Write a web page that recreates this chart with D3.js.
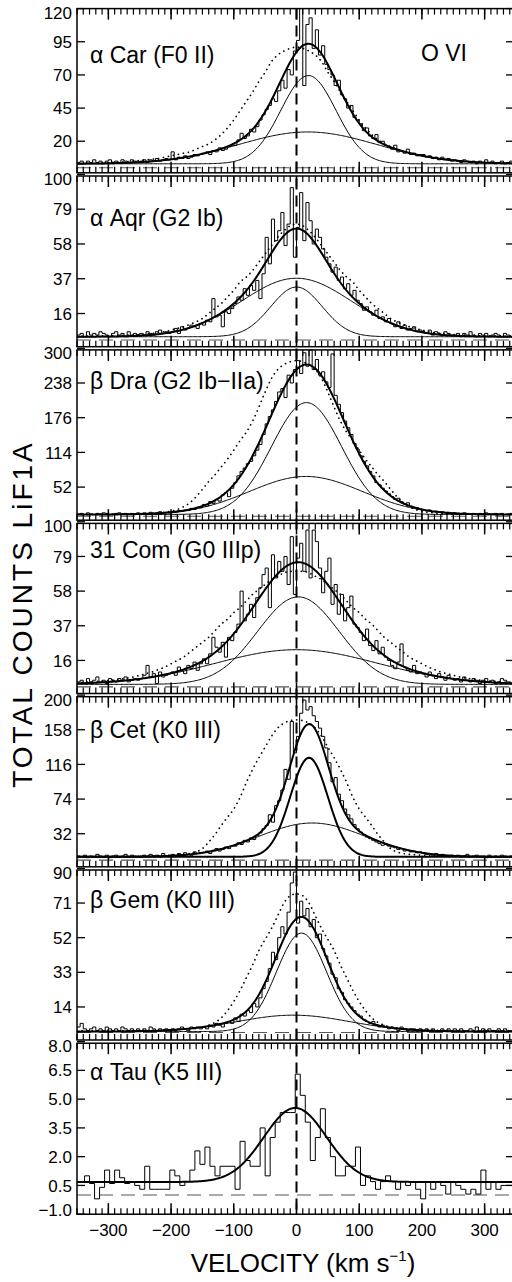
<!DOCTYPE html>
<html>
<head>
<meta charset="utf-8">
<script src="https://cdn.jsdelivr.net/npm/d3@7"></script>
<style>
body { margin: 0; background: #fff; }
text { font-family: "Liberation Sans", Arial, Helvetica, sans-serif; fill: #000; }
</style>
</head>
<body>
<script>
// LiF1A counts, 5 km/s bins starting at -350 km/s
var binStart = -350, binWidth = 5;
var carCounts = [4,5,3,5,4,6,4,5,3,5,6,4,5,4,6,5,4,6,5,4,
  5,6,4,6,5,7,5,6,7,6, 12,6,8,7,9,7,8,10,9,10, 11,12,10,13,12,15,13,14,16,17,
  17,21,26,22,24,29,27,31,36,40, 44,47,52,50,58,66,60,74,70,88,
  96,124,62,108,113,90,104,85,92,78, 74,70,62,66,55,52,45,47,38,36,
  33,28,30,24,22,25,19,20,17,16, 14,17,12,13,11,14,10,11,9,10, 10,8,9,7,8,6,8,6,7,5,
  6,5,4,6,5,4,5,3,5,4,6,4,5,3,4,5,3,4,5,4];
var aqrCounts = [3,4,2,5,3,4,3,5,4,3,2,4,5,3,4,2,5,3,4,3,
  4,3,5,4,3,5,6,4,5,4, 5,7,4,8,6,7,9,8,7,10, 9,12,11,25,14,15,8,17,16,19,
  22,26,24,31,27,33,30,36,25,40, 62,46,73,60,66,77,57,70,92,50,
  68,89,60,83,72,58,67,62,55,50, 46,41,44,36,38,31,34,27,30,24,
  22,18,20,17,15,18,13,14,11,13, 10,8,11,7,9,6,7,8,5,6, 5,4,6,3,5,4,3,5,4,3,
  3,4,2,4,3,5,3,2,4,3,4,2,3,4,3,2,4,3,2,3];
var draCounts = [4,5,3,6,4,3,5,4,6,5,3,4,5,6,4,5,3,5,4,6,
  5,6,4,7,5,6,8,5,7,6, 8,7,10,9,11,10,14,12,16,15, 21,18,26,23,30,27,38,42,35,50,
  60,72,80,86,94,98,108,118,128,146, 165,178,190,205,222,228,212,252,238,262,
  278,255,292,268,297,262,280,252,258,240, 230,290,216,200,185,170,158,146,130,120,
  108,98,90,80,72,60,56,50,45,40, 35,30,32,26,22,24,18,16,15,13, 12,10,11,8,9,7,8,6,7,5,
  6,5,4,6,5,4,5,3,5,4,6,4,3,5,4,5,3,4,5,4];
var comCounts = [3,4,2,5,3,4,6,3,4,2,5,4,3,5,4,6,3,4,5,4,
  5,7,13,6,8,2,9,6,7,8, 9,7,12,10,8,13,11,15,10,14, 17,14,20,30,24,21,27,18,30,28,
  33,38,58,40,44,50,42,54,60,68, 72,48,80,66,76,70,79,62,91,56,
  78,87,70,95,66,95,88,72,57,70, 78,50,62,44,56,40,48,55,38,36,
  33,28,35,25,22,28,20,24,18,16, 13,11,15,26,12,10,9,13,8,9, 8,6,9,7,5,8,6,4,7,5,
  4,5,3,6,4,3,5,4,2,4,5,3,4,2,3,5,4,3,2,4];
var cetCounts = [5,4,6,3,5,4,7,5,4,6,3,5,6,4,5,7,4,6,5,4,
  5,6,4,7,5,6,4,8,5,6, 7,5,8,6,9,7,6,10,8,9, 9,11,8,12,14,11,13,16,14,17,
  17,21,19,24,22,27,25,30,33,38, 42,55,46,66,72,85,110,98,168,130,
  150,178,194,182,186,175,168,160,150,136, 118,95,100,80,72,62,55,50,43,38,
  34,31,28,26,24,22,20,18,19,17, 16,15,13,14,11,12,10,11,9,10, 9,7,8,6,8,5,7,6,5,6,
  5,6,4,5,7,4,5,6,4,5,3,6,4,5,4,6,5,4,5,4];
var gemCounts = [3,5,2,1,2,3,1,2,1,3,2,1,2,1,3,2,1,2,1,2,
  1,2,1,3,2,1,2,1,2,1, 2,1,2,3,2,1,3,2,3,2, 3,2,4,3,5,4,3,5,6,5,
  8,6,10,9,12,11,16,14,19,24, 28,35,44,40,52,58,54,66,82,88,
  60,72,64,68,58,62,52,54,46,42, 38,32,30,24,22,18,16,14,12,10,
  9,7,6,5,6,4,3,4,3,2, 3,2,1,3,2,1,2,2,1,2, 1,2,1,2,1,1,2,1,2,1,
  2,1,2,1,1,2,1,3,1,2,1,2,1,1,2,1,2,1,1,2];

// alpha Tau, coarser 8 km/s bins
var tauStart = -354, tauWidth = 8;
var tauCounts = [0.7,0.7,1.0,0.6,-0.2,0.4,1.3,0.6,1.3,0.9,
  0.6,0.7,0.5,0.3,1.5,0.3,0.3,0.3,0.3,1.3, 1.0,0.5,0.7,1.3,2.3,1.6,2.5,1.5,1.0,1.5,
  1.5,1.5,0.3,2.8,1.8,1.5,1.5,3.5,1.0,3.0, 3.8,4.3,4.3,4.3,6.3,5.2,3.8,1.8,3.0,4.5,
  3.0,2.0,1.0,1.0,1.5,1.5,2.5,0.5,1.0,0.7, 0.3,0.7,1.0,0.7,0.3,0.7,0.5,0.7,0.3,-0.2,
  0.7,0.3,0.7,0.5,0.05,0.7,0.5,0.3,0.05,0.3, 0.05,1.3,0.3,0.7,0.3,0.5,0.5,0.5];

// gaussian fit components [peak, centre km/s, sigma km/s] above a flat level
var carLevel = 3,    carParts = [[66.5, 19, 44], [24, 18, 110]];
var aqrLevel = 2,    aqrParts = [[30, 0, 41], [35.3, 0, 88]];
var draLevel = 3,    draParts = [[200, 16, 56], [68, 15, 90]];
var comLevel = 1.5,  comParts = [[53, 3, 65], [21, 0, 130]];
var cetLevel = 4,    cetParts = [[120, 20, 30], [41, 25, 85]];
var gemLevel = 0.5,  gemParts = [[54, 8, 40], [9, -5, 90]];
var tauLevel = 0.68, tauParts = [[3.86, -2, 50]];

// dotted comparison profile, read at |v| = 0,10,...,350 and drawn mirrored
var mirrorV = d3.range(0, 351, 10);
var carMirror = [91,90,88,85,80,72,65,57,50,43,36,30,25,21,18,16,14,12,11,10,9,8,7,6.5,6,5.5,5,4.7,4.4,4.1,3.9,3.7,3.5,3.4,3.3,3.2];
var aqrMirror = [70,69,66,62,57,52,47,42,38,35,30,26,22,19,16,13,11,9.5,8,7,6,5,4.5,4,3.6,3.3,3,2.9,2.8,2.7,2.6,2.5,2.5,2.4,2.4,2.4];
var draMirror = [278,276,271,262,246,222,195,170,150,135,118,102,88,74,62,48,35,24,17,12,9,7,6,5,4.5,4,3.8,3.6,3.4,3.3,3.2,3.1,3,3,3,3];
var comMirror = [70,70,69,67,65,62,59,56,52,48,45,41,38,34,30,27,24,21,18,16,14,12,10.5,9,8,7,6,5.3,4.7,4.2,3.8,3.5,3.2,3,2.8,2.7];
var cetMirror = [170,169,166,160,150,137,124,110,94,76,62,52,42,31,22,14,10,8,7,6.5,6,5.7,5.4,5.2,5,4.8,4.6,4.5,4.4,4.3,4.2,4.1,4.1,4,4,4];
var gemMirror = [76,75,71,64,57,51,45,37,30,23,17,12,8,5.5,4,3,2.5,2,1.8,1.6,1.5,1.4,1.3,1.2,1.2,1.1,1.1,1,1,1,1,1,1,1,1,1];

// axis ticks
var xMajor = d3.range(-300, 301, 100);
var xMinor = d3.range(-350, 351, 10);

var panels = [
  {name: "α Car (F0 II)", counts: carCounts, start: binStart, width: binWidth, level: carLevel, parts: carParts, mirror: carMirror,
   yDomain: [-5, 120], yTicks: [20, 45, 70, 95, 120], labelDy: 54},
  {name: "α Aqr (G2 Ib)", counts: aqrCounts, start: binStart, width: binWidth, level: aqrLevel, parts: aqrParts, mirror: aqrMirror,
   yDomain: [-5, 100], yTicks: [16, 37, 58, 79, 100], labelDy: 51.5},
  {name: "β Dra (G2 Ib−IIa)", counts: draCounts, start: binStart, width: binWidth, level: draLevel, parts: draParts, mirror: draMirror,
   yDomain: [-10, 300], yTicks: [52, 114, 176, 238, 300], labelDy: 40.5},
  {name: "31 Com (G0 IIIp)", counts: comCounts, start: binStart, width: binWidth, level: comLevel, parts: comParts, mirror: comMirror,
   yDomain: [-5, 100], yTicks: [16, 37, 58, 79, 100], labelDy: 36},
  {name: "β Cet (K0 III)", counts: cetCounts, start: binStart, width: binWidth, level: cetLevel, parts: cetParts, mirror: cetMirror,
   yDomain: [-10, 200], yTicks: [32, 74, 116, 158, 200], labelDy: 43, thickPart: 0},
  {name: "β Gem (K0 III)", counts: gemCounts, start: binStart, width: binWidth, level: gemLevel, parts: gemParts, mirror: gemMirror,
   yDomain: [-5, 90], yTicks: [14, 33, 52, 71, 90], labelDy: 39.5},
  {name: "α Tau (K5 III)", counts: tauCounts, start: tauStart, width: tauWidth, level: tauLevel, parts: tauParts, mirror: null,
   yDomain: [-1, 8], yTicks: [-1, 0.5, 2, 3.5, 5, 6.5, 8], labelDy: 38.5, noParts: true, fmt: ".1f"}
];

var svg = d3.select("body").append("svg").attr("width", 512).attr("height", 1282);
var x = d3.scaleLinear().domain([-350, 350]).range([77, 516]);
var bounds = [8.6, 174.4, 348.3, 521.8, 695.1, 868.4, 1041.6, 1214.2];
var fitV = d3.range(-350, 350.1, 2);

function gauss(p, v) { return p[0] * Math.exp(-(v - p[1]) * (v - p[1]) / (2 * p[2] * p[2])); }

panels.forEach(function(p, i) {
  var top = bounds[i], bot = bounds[i + 1];
  var y = d3.scaleLinear().domain(p.yDomain).range([bot, top]);
  var line = d3.line().x(function(d) { return x(d[0]); }).y(function(d) { return y(d[1]); });

  svg.append("clipPath").attr("id", "clip" + i).append("rect")
    .attr("x", 77).attr("y", top).attr("width", 439).attr("height", bot - top);
  var plot = svg.append("g").attr("clip-path", "url(#clip" + i + ")");

  // zero level
  plot.append("line").attr("x1", x(-350)).attr("x2", x(350)).attr("y1", y(0)).attr("y2", y(0))
    .attr("stroke", "#555").attr("stroke-width", 1.1).attr("stroke-dasharray", "14,8");

  // dotted mirrored profile
  if (p.mirror) {
    var mpts = mirrorV.map(function(v, k) { return [-v, p.mirror[k]]; }).reverse()
      .concat(mirrorV.slice(1).map(function(v, k) { return [v, p.mirror[k + 1]]; }));
    plot.append("path").attr("d", line.curve(d3.curveMonotoneX)(mpts))
      .attr("fill", "none").attr("stroke", "#000").attr("stroke-width", 1.7)
      .attr("stroke-linecap", "round").attr("stroke-dasharray", "0.1,5");
  }

  // histogram
  var hpts = p.counts.map(function(c, k) { return [p.start + k * p.width, c]; });
  hpts.push([p.start + p.counts.length * p.width, p.counts[p.counts.length - 1]]);
  plot.append("path").attr("d", line.curve(d3.curveStepAfter)(hpts))
    .attr("fill", "none").attr("stroke", "#000").attr("stroke-width", 1);

  // fit components
  if (!p.noParts) {
    p.parts.forEach(function(part, k) {
      var cpts = fitV.map(function(v) { return [v, p.level + gauss(part, v)]; });
      plot.append("path").attr("d", line.curve(d3.curveLinear)(cpts))
        .attr("fill", "none").attr("stroke", "#000").attr("stroke-width", p.thickPart === k ? 2 : 1);
    });
  }
  var tpts = fitV.map(function(v) {
    return [v, p.level + d3.sum(p.parts, function(part) { return gauss(part, v); })];
  });
  plot.append("path").attr("d", line.curve(d3.curveLinear)(tpts))
    .attr("fill", "none").attr("stroke", "#000").attr("stroke-width", 2);

  // frame
  var ft = top + (i > 0 ? 1.6 : 0), fb = bot - (i < panels.length - 1 ? 1.6 : 0);
  svg.append("rect").attr("x", 77).attr("y", ft).attr("width", 439).attr("height", fb - ft)
    .attr("fill", "none").attr("stroke", "#000").attr("stroke-width", 1.5);

  // x ticks, inward on top and bottom
  [[ft, 1], [fb, -1]].forEach(function(side) {
    var g = svg.append("g");
    g.selectAll("line.mn").data(xMinor).enter().append("line")
      .attr("x1", function(d) { return x(d); }).attr("x2", function(d) { return x(d); })
      .attr("y1", side[0]).attr("y2", side[0] + side[1] * 6)
      .attr("stroke", "#000").attr("stroke-width", 1.2);
    g.selectAll("line.mj").data(xMajor).enter().append("line")
      .attr("x1", function(d) { return x(d); }).attr("x2", function(d) { return x(d); })
      .attr("y1", side[0]).attr("y2", side[0] + side[1] * 11)
      .attr("stroke", "#000").attr("stroke-width", 1.5);
  });

  // y ticks left and right
  var yt = svg.append("g");
  yt.selectAll("line.l").data(p.yTicks).enter().append("line")
    .attr("x1", 77).attr("x2", 85).attr("y1", function(d) { return y(d); }).attr("y2", function(d) { return y(d); })
    .attr("stroke", "#000").attr("stroke-width", 1.3);
  yt.selectAll("line.r").data(p.yTicks).enter().append("line")
    .attr("x1", 506).attr("x2", 516).attr("y1", function(d) { return y(d); }).attr("y2", function(d) { return y(d); })
    .attr("stroke", "#000").attr("stroke-width", 1.3);
  var fmt = p.fmt ? d3.format(p.fmt) : d3.format("d");
  yt.selectAll("text").data(p.yTicks).enter().append("text")
    .attr("x", 72).attr("y", function(d) {
      var yy = y(d);
      if (d === p.yDomain[1]) yy += 4.5;
      if (d === p.yDomain[0]) yy -= 4;
      return yy;
    })
    .attr("dy", "0.36em").attr("text-anchor", "end").style("font-size", "17px")
    .text(function(d) { return fmt(d); });

  // star label
  svg.append("text").attr("x", 90).attr("y", top + p.labelDy).style("font-size", "23px").text(p.name);

  // velocity labels under the last panel
  if (i === panels.length - 1) {
    svg.append("g").selectAll("text").data(xMajor).enter().append("text")
      .attr("x", function(d) { return x(d); }).attr("y", 1236).attr("text-anchor", "middle")
      .style("font-size", "17px").text(function(d) { return d3.format("d")(d); });
  }
});

// line-centre marker
svg.append("line").attr("x1", x(0)).attr("x2", x(0)).attr("y1", bounds[0]).attr("y2", bounds[7])
  .attr("stroke", "#000").attr("stroke-width", 2).attr("stroke-dasharray", "11,6");

svg.append("text").attr("x", 421).attr("y", 61).style("font-size", "23px").text("O VI");

var xt = svg.append("text").attr("x", 303).attr("y", 1272).attr("text-anchor", "middle").style("font-size", "26px");
xt.append("tspan").text("VELOCITY (km s");
xt.append("tspan").attr("dy", -11).style("font-size", "15px").text("−1");
xt.append("tspan").attr("dy", 11).text(")");

svg.append("text").attr("transform", "translate(32,614) rotate(-90)").attr("text-anchor", "middle")
  .style("font-size", "28px").style("letter-spacing", "3px").text("TOTAL COUNTS LiF1A");
</script>
</body>
</html>
